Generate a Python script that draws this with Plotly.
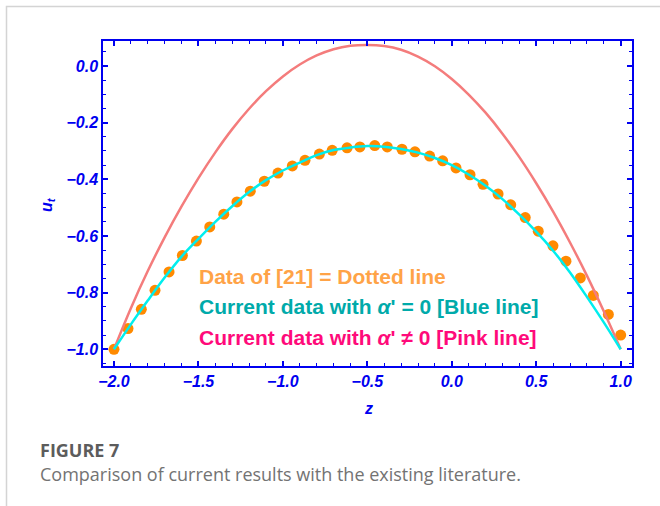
import plotly.graph_objects as go

# ---- data ----
dots_z = [-2.000, -1.917, -1.838, -1.757, -1.674, -1.595, -1.512, -1.433, -1.350, -1.272,
          -1.193, -1.110, -1.029, -0.944, -0.869, -0.784, -0.708, -0.620, -0.544, -0.456,
          -0.382, -0.295, -0.218, -0.131, -0.054, 0.025, 0.108, 0.185, 0.274, 0.349,
          0.435, 0.512, 0.599, 0.676, 0.761, 0.838, 0.927, 1.000]
dots_u = [-1.000, -0.927, -0.859, -0.792, -0.727, -0.669, -0.618, -0.568, -0.523, -0.480,
          -0.442, -0.407, -0.378, -0.353, -0.333, -0.311, -0.298, -0.289, -0.286, -0.281,
          -0.286, -0.294, -0.303, -0.318, -0.335, -0.360, -0.384, -0.418, -0.452, -0.490,
          -0.535, -0.583, -0.635, -0.689, -0.748, -0.810, -0.877, -0.950]

line_z = [-2.0, -1.9, -1.8, -1.7, -1.6, -1.5, -1.4, -1.3, -1.2, -1.1, -1.0, -0.9, -0.8,
          -0.7, -0.6, -0.5, -0.4, -0.3, -0.2, -0.1, 0.0, 0.1, 0.2, 0.3, 0.4, 0.5, 0.6,
          0.7, 0.8, 0.9, 1.0]
blue_u = [-1.000, -0.912, -0.828, -0.747, -0.673, -0.610, -0.550, -0.495, -0.445, -0.403,
          -0.369, -0.341, -0.315, -0.297, -0.288, -0.283, -0.285, -0.293, -0.306, -0.325,
          -0.350, -0.383, -0.423, -0.470, -0.525, -0.585, -0.652, -0.729, -0.815, -0.905,
          -1.000]
pink_u = [-1.000, -0.855, -0.724, -0.605, -0.496, -0.396, -0.305, -0.223, -0.151, -0.089,
          -0.037, 0.005, 0.037, 0.059, 0.071, 0.074, 0.070, 0.057, 0.033, -0.001,
          -0.046, -0.101, -0.165, -0.239, -0.322, -0.414, -0.514, -0.623, -0.740, -0.866,
          -1.000]

x_ticks = [-2.0, -1.5, -1.0, -0.5, 0.0, 0.5, 1.0]
y_ticks = [0.0, -0.2, -0.4, -0.6, -0.8, -1.0]

legend_texts = ["Data of [21] = Dotted line",
                "Current data with <i>α</i>' = 0 [Blue line]",
                "Current data with <i>α</i>' ≠ 0 [Pink line]"]
legend_colors = ["#FFA347", "#00AAAA", "#FF0A7A"]

BLUE = "#0000F0"

fig = go.Figure()
fig.add_trace(go.Scatter(x=dots_z, y=dots_u, mode="markers",
                         marker=dict(size=11, color="#FF8A00"), showlegend=False))
fig.add_trace(go.Scatter(x=line_z, y=pink_u, mode="lines", line_shape="spline",
                         line=dict(color="#F47C7C", width=2.5), showlegend=False))
fig.add_trace(go.Scatter(x=line_z, y=blue_u, mode="lines", line_shape="spline",
                         line=dict(color="#00EEEE", width=2.5), showlegend=False))

tickfont = dict(family="Liberation Sans, Arial", size=16, color=BLUE,
                weight="bold", style="italic")

fig.update_xaxes(range=[-2.065, 1.067], tickvals=x_ticks, tickformat=".1f",
                 ticks="inside", ticklen=5, tickwidth=1.5, tickcolor=BLUE,
                 minor=dict(dtick=0.1, ticks="inside", ticklen=3, tickwidth=1, tickcolor=BLUE),
                 showline=True, linecolor=BLUE, linewidth=1.5, mirror="allticks",
                 showgrid=False, zeroline=False, tickfont=tickfont)
fig.update_yaxes(range=[-1.059, 0.088], tickvals=y_ticks, tickformat=".1f",
                 ticks="inside", ticklen=5, tickwidth=1.5, tickcolor=BLUE,
                 minor=dict(dtick=0.05, tick0=0, ticks="inside", ticklen=3, tickwidth=1, tickcolor=BLUE),
                 showline=True, linecolor=BLUE, linewidth=1.5, mirror="allticks",
                 showgrid=False, zeroline=False, tickfont=tickfont)

L, R, T, B = 103, 28, 41, 140
W, H = 660, 506
pw, ph = W - L - R, H - T - B


def px(xp):
    return (xp - L) / pw


def py(yp):
    return (H - B - yp) / ph


annotations = []
legend_y = [-0.742, -0.850, -0.958]
for txt, col, yy in zip(legend_texts, legend_colors, legend_y):
    annotations.append(dict(x=-1.51, y=yy, xref="x", yref="y", text=txt, showarrow=False,
                            xanchor="left", yanchor="middle",
                            font=dict(family="Liberation Sans, Arial", size=21, color=col,
                                      weight="bold")))

annotations.append(dict(x=px(368), y=py(408), xref="paper", yref="paper", text="z",
                        showarrow=False, xanchor="center", yanchor="middle",
                        font=dict(family="Liberation Sans, Arial", size=16, color=BLUE,
                                  weight="bold", style="italic")))
annotations.append(dict(x=px(47), y=py(205), xref="paper", yref="paper",
                        text="u<sub>t</sub>", textangle=-90,
                        showarrow=False, xanchor="center", yanchor="middle",
                        font=dict(family="Liberation Sans, Arial", size=16, color=BLUE,
                                  weight="bold", style="italic")))
annotations.append(dict(x=px(38), y=py(450), xref="paper", yref="paper", text="<b>FIGURE 7</b>",
                        showarrow=False, xanchor="left", yanchor="middle",
                        font=dict(family="Open Sans", size=18, color="#5c5c5c")))
annotations.append(dict(x=px(38), y=py(474), xref="paper", yref="paper",
                        text="Comparison of current results with the existing literature.",
                        showarrow=False, xanchor="left", yanchor="middle",
                        font=dict(family="Open Sans", size=18, color="#737373")))

shapes = [dict(type="rect", xref="paper", yref="paper",
               x0=px(6.5), x1=px(680), y0=py(530), y1=py(6.5),
               line=dict(color="#d4d4d4", width=1.5), layer="below")]

fig.update_layout(width=W, height=H, margin=dict(l=L, r=R, t=T, b=B),
                  paper_bgcolor="white", plot_bgcolor="white",
                  annotations=annotations, shapes=shapes, showlegend=False)

fig.write_html("out.html", config={"displayModeBar": False},
               post_script="document.body.style.margin='0px';document.body.style.overflow='hidden';")
